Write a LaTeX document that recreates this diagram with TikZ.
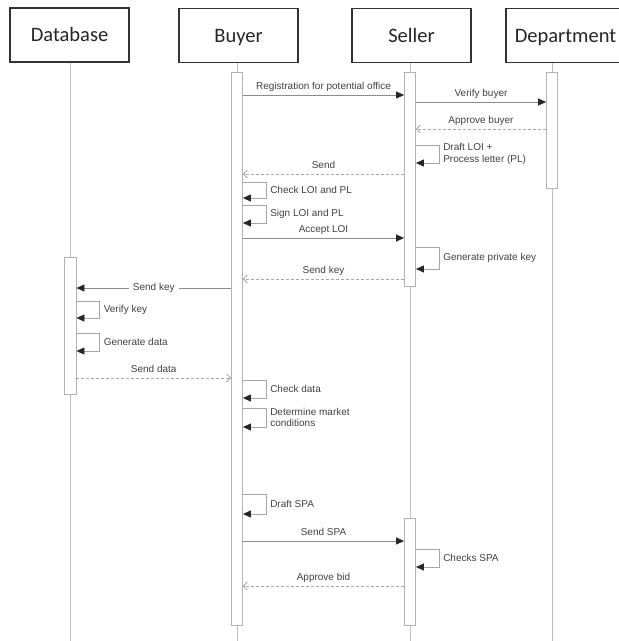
\documentclass[tikz,border=0pt]{standalone}
\usepackage{fontspec}
\newfontfamily\headfont{Carlito}
\newfontfamily\msgfont{Liberation Sans}
\usetikzlibrary{arrows.meta}

\tikzset{
  head/.style={draw=black!80, line width=1.2pt, fill=white, minimum width=119pt, minimum height=54pt, inner sep=0pt, text height=15pt, text depth=2pt, font=\headfont\fontsize{20.5}{22}\selectfont, text=black!85},
  life/.style={draw=black!25, line width=0.8pt},
  actbar/.style={draw=black!30, fill=white, line width=0.8pt, minimum width=11pt, inner sep=0pt, anchor=north},
  call/.style={draw=black!45, line width=0.7pt, -{Triangle[black!85, length=8pt, width=7pt]}},
  reply/.style={draw=black!35, line width=0.7pt, densely dashed, -{Straight Barb[black!40, length=4pt, width=8pt]}},
  selfmsg/.style={draw=black!35, line width=0.7pt, -{Triangle[black!85, length=8pt, width=7pt]}},
  msglabel/.style={font=\msgfont\fontsize{10}{11.5}\selectfont, text=black!75, inner sep=1pt},
  toplabel/.style={msglabel, midway, anchor=base, yshift=5.5pt},
  sidelabel/.style={msglabel, midway, anchor=west, xshift=3pt, align=left}
}

\begin{document}
\begin{tikzpicture}[x=1pt, y=-1pt]
	\useasboundingbox (0,0) rectangle (619,641);
	% participants
	\node[head] (database) at (69.5,35) {Database};
	\node[head] (buyer) at (238.5,35.5) {Buyer};
	\node[head] (seller) at (411.5,35.5) {Seller};
	\node[head] (department) at (565.5,35.5) {Department};
	% lifelines
	\coordinate (databaseend) at (70,641);
	\coordinate (buyerend) at (237,641);
	\coordinate (sellerend) at (410,641);
	\coordinate (departmentend) at (552,641);
	\draw[life] (databaseend |- database.south) -- (databaseend);
	\draw[life] (buyerend |- buyer.south) -- (buyerend);
	\draw[life] (sellerend |- seller.south) -- (sellerend);
	\draw[life] (departmentend |- department.south) -- (departmentend);
	% activation bars
	\node[actbar, minimum height=553pt] (buyerbar) at (237,72) {};
	\node[actbar, minimum height=214pt] (sellerbarA) at (410,72) {};
	\node[actbar, minimum height=107pt] (sellerbarB) at (410,518) {};
	\node[actbar, minimum height=116pt] (deptbar) at (552,72) {};
	\node[actbar, minimum height=137pt, minimum width=12pt] (databar) at (70,257) {};
	% messages
	\draw[call] (buyerbar.east |- 0,95) -- node[toplabel] {Registration for potential office} (sellerbarA.west |- 0,95);
	\draw[call] (sellerbarA.east |- 0,102) -- node[toplabel] {Verify buyer} (deptbar.west |- 0,102);
	\draw[reply] (deptbar.west |- 0,129) -- node[toplabel] {Approve buyer} (sellerbarA.east |- 0,129);
	\draw[selfmsg] (sellerbarA.east |- 0,145) -- ++(23,0) -- node[sidelabel] {Draft LOI +\\Process letter (PL)} ++(0,18) -- (sellerbarA.east |- 0,163);
	\draw[reply] (sellerbarA.west |- 0,174) -- node[toplabel] {Send} (buyerbar.east |- 0,174);
	\draw[selfmsg] (buyerbar.east |- 0,182) -- ++(23,0) -- node[sidelabel] {Check LOI and PL} ++(0,16) -- (buyerbar.east |- 0,198);
	\draw[selfmsg] (buyerbar.east |- 0,205) -- ++(23,0) -- node[sidelabel] {Sign LOI and PL} ++(0,18) -- (buyerbar.east |- 0,223);
	\draw[call] (buyerbar.east |- 0,238) -- node[toplabel] {Accept LOI} (sellerbarA.west |- 0,238);
	\draw[selfmsg] (sellerbarA.east |- 0,247) -- ++(23,0) -- node[sidelabel] {Generate private key} ++(0,22) -- (sellerbarA.east |- 0,269);
	\draw[reply] (sellerbarA.west |- 0,279) -- node[toplabel] {Send key} (buyerbar.east |- 0,279);
	\draw[call] (buyerbar.west |- 0,288) -- node[msglabel, fill=white, inner xsep=4pt] {Send key} (databar.east |- 0,288);
	\draw[selfmsg] (databar.east |- 0,301) -- ++(23,0) -- node[sidelabel] {Verify key} ++(0,17) -- (databar.east |- 0,318);
	\draw[selfmsg] (databar.east |- 0,333) -- ++(23,0) -- node[sidelabel] {Generate data} ++(0,18) -- (databar.east |- 0,351);
	\draw[reply] (databar.east |- 0,378) -- node[toplabel] {Send data} (buyerbar.west |- 0,378);
	\draw[selfmsg] (buyerbar.east |- 0,380) -- ++(23,0) -- node[sidelabel] {Check data} ++(0,18) -- (buyerbar.east |- 0,398);
	\draw[selfmsg] (buyerbar.east |- 0,408) -- ++(23,0) -- node[sidelabel] {Determine market\\conditions} ++(0,19) -- (buyerbar.east |- 0,427);
	\draw[selfmsg] (buyerbar.east |- 0,494) -- ++(23,0) -- node[sidelabel] {Draft SPA} ++(0,20) -- (buyerbar.east |- 0,514);
	\draw[call] (buyerbar.east |- 0,541) -- node[toplabel] {Send SPA} (sellerbarB.west |- 0,541);
	\draw[selfmsg] (sellerbarB.east |- 0,549) -- ++(23,0) -- node[sidelabel] {Checks SPA} ++(0,18) -- (sellerbarB.east |- 0,567);
	\draw[reply] (sellerbarB.west |- 0,586) -- node[toplabel] {Approve bid} (buyerbar.east |- 0,586);
\end{tikzpicture}
\end{document}
